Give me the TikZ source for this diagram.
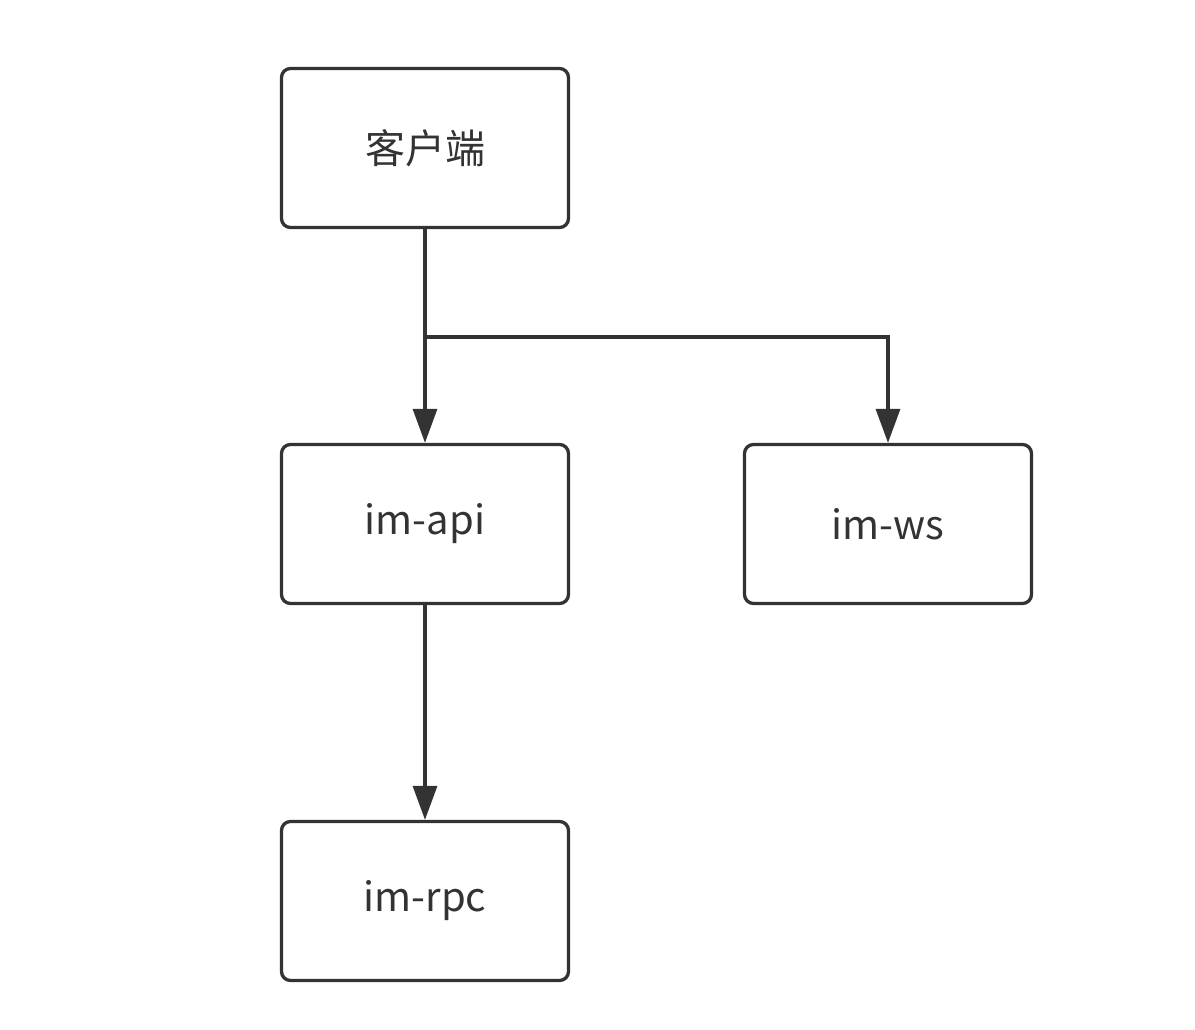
\documentclass[tikz,border=0pt]{standalone}
\usepackage{fontspec}
\setmainfont{Noto Sans CJK SC}
\usetikzlibrary{arrows.meta}
\definecolor{ln}{HTML}{333333}
\definecolor{tx}{HTML}{333333}
\tikzset{
  box/.style={draw=ln, line width=3.3pt, rounded corners=9pt, minimum width=287pt, minimum height=159pt, inner sep=0pt, text=tx, font=\fontsize{40}{48}\selectfont},
  conn/.style={draw=ln, line width=3.3pt, -{Triangle[length=34pt,width=24pt]}}
}
\begin{document}
\begin{tikzpicture}[x=1pt,y=-1pt]
\useasboundingbox[fill=white] (0,0) rectangle (1195,1030);
\node[box] (client) at (425,148) {客户端};
\node[box] (api) at (425,524) {im-api};
\node[box] (ws) at (888,524) {im-ws};
\node[box] (rpc) at (425,901) {im-rpc};
\coordinate (split) at (425,337);
\draw[conn] (client.south) -- (api.north);
\draw[conn] (split) -| (ws.north);
\draw[conn] (api.south) -- (rpc.north);
\end{tikzpicture}
\end{document}
